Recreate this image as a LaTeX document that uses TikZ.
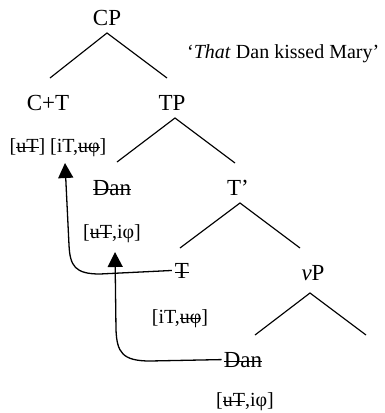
\documentclass[tikz,border=0pt]{standalone}
\usepackage{fontspec}
\setmainfont{Liberation Serif}
\usetikzlibrary{arrows.meta}
\newsavebox\stbox
\newcommand\strk[1]{\sbox\stbox{#1}\rlap{\usebox\stbox}\rule[0.22em]{\wd\stbox}{0.055em}}
\begin{document}
\begin{tikzpicture}[x=1pt,y=-1pt,
  lab/.style={anchor=base,inner sep=0pt,font=\fontsize{23}{27}\selectfont},
  feat/.style={anchor=base,inner sep=0pt,font=\fontsize{20}{24}\selectfont},
  branch/.style={line width=1.15pt},
  mv/.style={line width=1.3pt,-{Triangle[length=15pt,width=15pt]}}]
\useasboundingbox (0,0) rectangle (385,413);
% nodes
\node[lab] (CP) at (107,25) {CP};
\node[lab] (CT) at (48,110) {C+T};
\node[lab] (TP) at (172,110) {TP};
\node[feat,anchor=base west] (quote) at (187,58) {‘\textit{That} Dan kissed Mary’};
\node[feat] (CTf) at (58,152) {[\strk{uT}] [iT,\strk{uφ}]};
\node[lab] (Dan1) at (112,195) {\strk{Dan}};
\node[feat] (Dan1f) at (112,238) {[\strk{uT},iφ]};
\node[lab] (Tbar) at (238,195) {T’};
\node[lab] (T2) at (182,278) {\strk{T}};
\node[feat] (T2f) at (180,323) {[iT,\strk{uφ}]};
\node[lab] (vP) at (313,280) {\textit{v}P};
\node[lab] (Dan2) at (243,367) {\strk{Dan}};
\node[feat] (Dan2f) at (245,406) {[\strk{uT},iφ]};
% branch points
\coordinate (cpA) at (107,33); \coordinate (cpL) at (50,78); \coordinate (cpR) at (167,78);
\coordinate (tpA) at (175,118); \coordinate (tpL) at (117,162); \coordinate (tpR) at (235,163);
\coordinate (tbA) at (240,203); \coordinate (tbL) at (180,248); \coordinate (tbR) at (300,248);
\coordinate (vpA) at (310,293); \coordinate (vpL) at (255,335); \coordinate (vpR) at (366,335);
\coordinate (tip1) at (65,163); \coordinate (tip2) at (115,252);
% branches
\draw[branch] (cpL) -- (cpA) -- (cpR);
\draw[branch] (tpL) -- (tpA) -- (tpR);
\draw[branch] (tbL) -- (tbA) -- (tbR);
\draw[branch] (vpL) -- (vpA) -- (vpR);
% movement arrows
\draw[mv] ([xshift=-3pt]T2.west) -- (100,274) .. controls (75,274) and (70,266) .. (69,245) -- (tip1);
\draw[mv] ([xshift=-2pt]Dan2.west) -- (150,361) .. controls (122,361) and (117,352) .. (116,330) -- (tip2);
\end{tikzpicture}
\end{document}
